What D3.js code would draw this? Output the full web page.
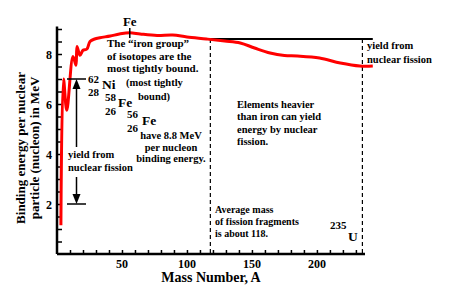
<!DOCTYPE html>
<html><head><meta charset="utf-8">
<script src="https://cdn.jsdelivr.net/npm/d3@7"></script>
<style>
html,body{margin:0;padding:0;background:#fff;}
</style></head>
<body><svg id="c" width="450" height="300" font-family="'Liberation Serif', 'Times New Roman', 'DejaVu Serif', serif" font-weight="bold"></svg>
<script>
const massNumber = [3, 5, 7.5, 12.3, 14.6, 15.4, 17.7, 20, 23, 25.4, 29, 33, 41, 48, 56, 64, 77, 89, 100, 115, 129, 141, 152, 164, 175, 185, 202, 218, 233, 243];
const bindingEnergy = [1.15, 7.0, 5.75, 7.9, 7.55, 8.3, 7.95, 8.15, 8.2, 8.5, 8.6, 8.65, 8.72, 8.8, 8.85, 8.8, 8.74, 8.76, 8.68, 8.6, 8.52, 8.44, 8.24, 8.04, 7.94, 7.92, 7.84, 7.64, 7.52, 7.52];
const xTickLabels = [50, 100, 150, 200];
const yTickLabels = [2, 4, 6, 8];
const fissionLevels = [7.0, 2.0];
const ironMass = 56, fragmentMass = 118, uraniumMass = 235, plateauLevel = 8.6;

const svg = d3.select("#c");
const x = d3.scaleLinear().domain([0, 237]).range([57, 365]);
const y = d3.scaleLinear().domain([0, 9.1]).range([254, 26.5]);

// dashed verticals
[fragmentMass, uraniumMass].forEach(m => {
  svg.append("line").attr("x1", x(m)).attr("x2", x(m)).attr("y1", y(plateauLevel)).attr("y2", y(0))
    .attr("stroke", "#000").attr("stroke-width", 1.2).attr("stroke-dasharray", "4,3");
});
// plateau line
svg.append("line").attr("x1", x(fragmentMass)).attr("x2", x(243)).attr("y1", y(plateauLevel)).attr("y2", y(plateauLevel))
  .attr("stroke", "#000").attr("stroke-width", 2);

// axes
const xAxis = d3.axisBottom(x).tickValues(d3.range(10, 237, 10)).tickSize(-4).tickFormat("");
const gx = svg.append("g").attr("transform", `translate(0,${y(0)})`).call(xAxis);
gx.select(".domain").attr("stroke-width", 2.5).attr("d", `M${x(0)},0H${x(237)}`);
gx.selectAll(".tick line").attr("stroke-width", 1.5);
xTickLabels.forEach(v => svg.append("text").attr("x", x(v)).attr("y", 268).attr("text-anchor", "middle")
  .attr("font-size", 12).text(v));

const yAxis = d3.axisLeft(y).tickValues(d3.range(0.5, 9.01, 0.5)).tickSize(-5).tickFormat("");
const gy = svg.append("g").attr("transform", `translate(${x(0)},0)`).call(yAxis);
gy.select(".domain").attr("stroke-width", 2.5).attr("d", `M0,${y(0)}V${y(9.1)}`);
gy.selectAll(".tick line").attr("stroke-width", 1.5);
yTickLabels.forEach(v => svg.append("text").attr("x", 52).attr("y", y(v) + 4.5).attr("text-anchor", "end")
  .attr("font-size", 12).text(v));

// curve
const line = d3.line().x((d, i) => x(massNumber[i])).y(d => y(d)).curve(d3.curveCatmullRom.alpha(0.5));
svg.append("path").datum(bindingEnergy).attr("d", line).attr("fill", "none")
  .attr("stroke", "#ff0000").attr("stroke-width", 3).attr("stroke-linejoin", "round");

// Fe tick
svg.append("line").attr("x1", x(ironMass)).attr("x2", x(ironMass)).attr("y1", 28).attr("y2", 38)
  .attr("stroke", "#000").attr("stroke-width", 1.5);
svg.append("text").attr("x", x(ironMass)).attr("y", 26).attr("text-anchor", "middle").attr("font-size", 13).text("Fe");

// fission arrows
fissionLevels.forEach(v => svg.append("line").attr("x1", 67).attr("x2", 86).attr("y1", y(v)).attr("y2", y(v))
  .attr("stroke", "#000").attr("stroke-width", 1.5));
const ax = 76.5;
svg.append("line").attr("x1", ax).attr("x2", ax).attr("y1", y(7) + 6).attr("y2", 147).attr("stroke", "#000").attr("stroke-width", 1.5);
svg.append("path").attr("d", `M${ax},${y(7)}l-4,10h8z`).attr("fill", "#000");
svg.append("line").attr("x1", ax).attr("x2", ax).attr("y1", 177).attr("y2", y(2) - 6).attr("stroke", "#000").attr("stroke-width", 1.5);
svg.append("path").attr("d", `M${ax},${y(2)}l-4,-10h8z`).attr("fill", "#000");

function lines(x0, y0, arr, size, gap, anchor) {
  arr.forEach((t, i) => svg.append("text").attr("x", x0).attr("y", y0 + i * gap)
    .attr("font-size", size).attr("text-anchor", anchor || "start").text(t));
}
lines(68, 158, ["yield from", "nuclear fission"], 10.5, 13);
lines(107, 47, ["The \u201ciron group\u201d", "of isotopes are the", "most tightly bound."], 11, 12.7);
lines(88, 83, ["62", "28"], 11, 13);
lines(102, 89, ["Ni"], 13.5, 0);
lines(126, 86, ["(most tightly"], 10.5, 0);
lines(138, 100, ["bound)"], 10.5, 0);
lines(105, 101, ["58", "26"], 11, 13.5);
lines(118, 107, ["Fe"], 13.5, 0);
lines(127, 118, ["56", "26"], 11, 13.5);
lines(142, 125, ["Fe"], 13.5, 0);
lines(171, 139, ["have 8.8 MeV", "per nucleon", "binding energy."], 10.5, 11.7, "middle");
lines(237, 108, ["Elements heavier", "than iron can yield", "energy by nuclear", "fission."], 10.5, 12.3);
lines(367, 49, ["yield from", "nuclear fission"], 10.5, 13.5);
lines(215, 213, ["Average mass", "of fission fragments", "is about 118."], 10, 12);
lines(330, 229, ["235"], 11, 0);
lines(348, 241, ["U"], 13.5, 0);

svg.append("text").attr("x", 211).attr("y", 282).attr("text-anchor", "middle").attr("font-size", 14).text("Mass Number, A");
svg.append("text").attr("transform", "translate(25,148) rotate(-90)").attr("text-anchor", "middle").attr("font-size", 13)
  .text("Binding energy per nuclear");
svg.append("text").attr("transform", "translate(39,148) rotate(-90)").attr("text-anchor", "middle").attr("font-size", 13)
  .text("particle (nucleon) in MeV");
</script></body></html>
